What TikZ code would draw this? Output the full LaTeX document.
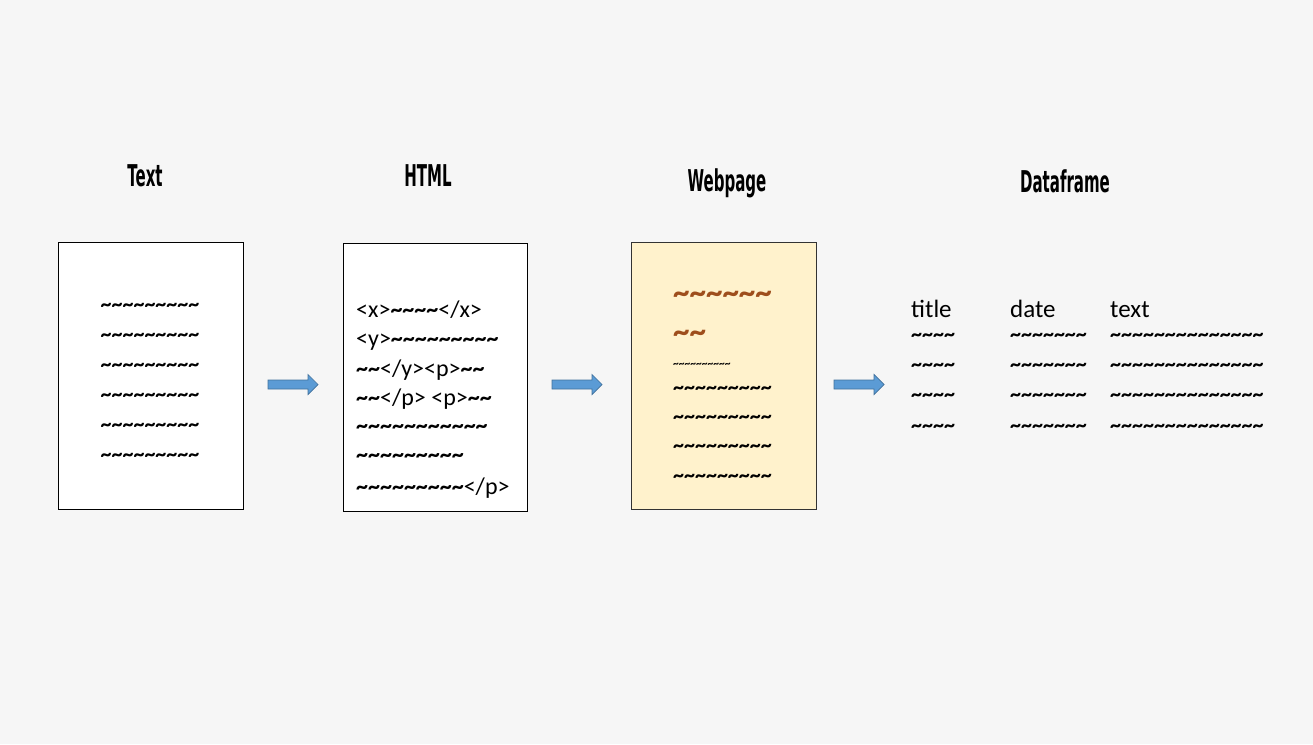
\documentclass[tikz,border=0pt]{standalone}
\usepackage{fontspec}
\setmainfont{Carlito}
\newfontfamily\titlefont{DejaVu Sans}
\usetikzlibrary{calc}
\definecolor{bg}{RGB}{246,246,246}
\definecolor{paper}{RGB}{255,242,204}
\definecolor{arrowfill}{RGB}{91,155,213}
\definecolor{arrowline}{RGB}{65,113,156}
\definecolor{brownt}{RGB}{158,78,28}
\ExplSyntaxOn
\NewDocumentCommand\tld{m}{{\bfseries\prg_replicate:nn{#1}{\textasciitilde}}}
\ExplSyntaxOff
\newcommand\ttltext[1]{\scalebox{0.5}[1]{#1}}
\begin{document}
\begin{tikzpicture}[x=1pt,y=-1pt,
  page/.style={draw=black, line width=1pt, fill=white, inner sep=0, anchor=north west},
  ttl/.style={font=\titlefont\bfseries\fontsize{30}{32}\selectfont, inner sep=0, anchor=base},
  body/.style={font=\fontsize{24}{29}\selectfont, inner sep=0, anchor=base west},
  wav/.style={font=\fontsize{22}{26}\selectfont, inner sep=0, anchor=base west},
  wavc/.style={wav, anchor=base},
  big/.style={font=\fontsize{33}{36}\selectfont, inner sep=0, anchor=base west, text=brownt},
  tiny/.style={font=\fontsize{11.5}{13}\selectfont, inner sep=0, anchor=base west},
  head/.style={font=\fontsize{25}{30}\selectfont, inner sep=0, anchor=base west},
  barrow/.style={fill=arrowfill, draw=arrowline, line width=0.7pt, line join=miter}]
\useasboundingbox (0,0) rectangle (1313,744);
\fill[bg] (0,0) rectangle (1313,744);

% titles
\node[ttl] (ttext) at (145,186) {\ttltext{Text}};
\node[ttl] (thtml) at (428,186) {\ttltext{HTML}};
\node[ttl] (tweb)  at (727,191) {\ttltext{Webpage}};
\node[ttl] (tdf)   at (1065,192) {\ttltext{Dataframe}};

% pages
\node[page, minimum width=185, minimum height=267] (tbox) at (58,242) {};
\node[page, minimum width=184, minimum height=268] (hbox) at (343,243) {};
\node[page, fill=paper, draw=black!80, minimum width=185, minimum height=267] (wbox) at (631,242) {};

% text box lines
\node[wavc] (tx1) at (150,311) {\tld{9}};
\node[wavc] (tx2) at (150,341) {\tld{9}};
\node[wavc] (tx3) at (150,371) {\tld{9}};
\node[wavc] (tx4) at (150,401) {\tld{9}};
\node[wavc] (tx5) at (150,431) {\tld{9}};
\node[wavc] (tx6) at (150,461) {\tld{9}};

% html lines
\node[body] (h1) at (356,317) {<x>\tld{4}</x>};
\node[body] (h2) at (356,346) {<y>\tld{9}};
\node[body] (h3) at (356,376) {\tld{2}</y><p>\tld{2}};
\node[body] (h4) at (356,405) {\tld{2}</p> <p>\tld{2}};
\node[body] (h5) at (356,433) {\tld{11}};
\node[body] (h6) at (356,462) {\tld{9}};
\node[body] (h7) at (356,494) {\tld{9}</p>};

% webpage lines
\node[big]  (w1) at (673,303) {\tld{6}};
\node[big]  (w2) at (673,342) {\tld{2}};
\node[tiny] (w3) at (673,367) {\tld{10}};
\node[wav]  (w4) at (673,394) {\tld{9}};
\node[wav]  (w5) at (673,423) {\tld{9}};
\node[wav]  (w6) at (673,452) {\tld{9}};
\node[wav]  (w7) at (673,482) {\tld{9}};

% dataframe
\node[head] (dtitle) at (911,317) {title};
\node[head] (ddate)  at (1010,317) {date};
\node[head] (dtext)  at (1110,317) {text};
\foreach \r/\y in {1/341,2/371,3/401,4/432}{
  \node[wav] (dt\r) at (911,\y) {\tld{4}};
  \node[wav] (dd\r) at (1010,\y) {\tld{7}};
  \node[wav] (dx\r) at (1110,\y) {\tld{14}};
}

% block arrows
\coordinate (a1) at (268,384.5);
\coordinate (a2) at (552,384.5);
\coordinate (a3) at (834,384.5);
\foreach \a in {a1,a2,a3}{
  \path[barrow] (\a) ++(0,-4.5) -- ++(40,0) -- ++(0,-5.5) -- ++(10,10) -- ++(-10,10) -- ++(0,-5.5) -- ++(-40,0) -- cycle;
}
\end{tikzpicture}
\end{document}
